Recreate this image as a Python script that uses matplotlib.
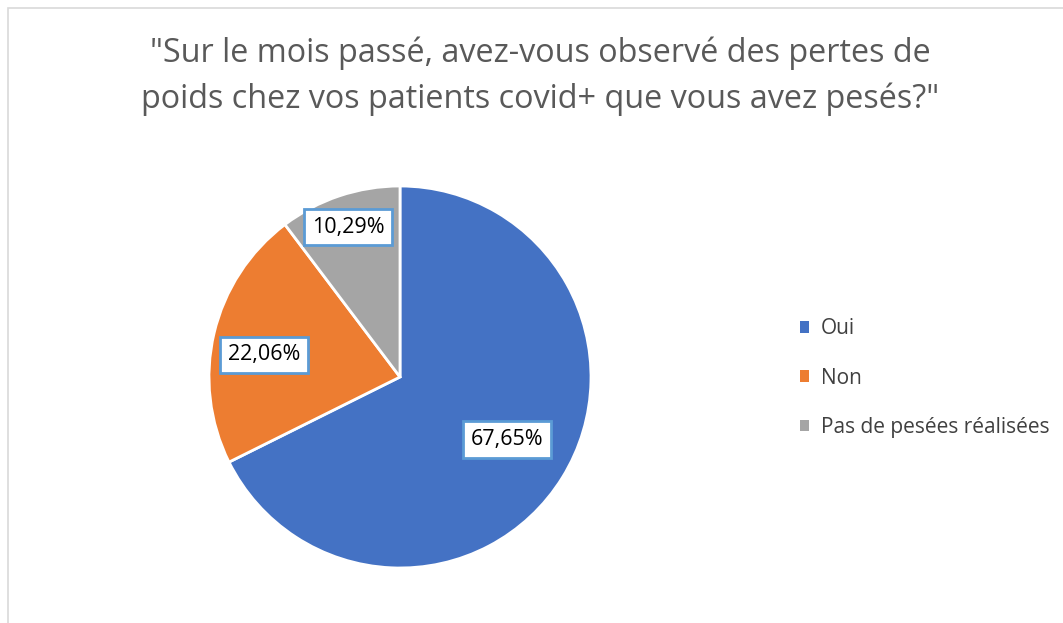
import numpy as np
import matplotlib
matplotlib.use("Agg")
import matplotlib.pyplot as plt
from matplotlib.patches import Rectangle

categories = ["Oui", "Non", "Pas de pesées réalisées"]
values = [67.65, 22.06, 10.29]
labels = ["67,65%", "22,06%", "10,29%"]
colors = ["#4472C4", "#ED7D31", "#A5A5A5"]
title = '"Sur le mois passé, avez-vous observé des pertes de\npoids chez vos patients covid+ que vous avez pesés?"'

W, H = 1063, 623
fig = plt.figure(figsize=(W / 100, H / 100), dpi=100)
fig.patch.set_facecolor("white")

# outer frame (chart area border)
fig.add_artist(Rectangle((8 / W, -0.01), 1.02, (H - 8) / H + 0.01, transform=fig.transFigure,
                         fill=False, edgecolor="#D9D9D9", linewidth=1.2))

fig.text(540 / W, 1 - 76 / H, title, ha="center", va="center", fontsize=23.3,
         color="#595959", family="Open Sans", linespacing=1.5)

cx, cy, R = 400, 377, 191
ax = fig.add_axes([(cx - R) / W, (H - cy - R) / H, 2 * R / W, 2 * R / H])
wedges, _ = ax.pie(values, colors=colors, startangle=90, counterclock=False,
                   radius=1, wedgeprops=dict(edgecolor="white", linewidth=2))
ax.set_xlim(-1, 1)
ax.set_ylim(-1, 1)
ax.set_aspect("equal")
ax.axis("off")

dist = [0.65, 0.72, 0.83]
dang = [1.5, 4.0, 0.5]
for w, lab, d, da in zip(wedges, labels, dist, dang):
    ang = np.deg2rad((w.theta1 + w.theta2) / 2 + da)
    ax.text(d * np.cos(ang), d * np.sin(ang), lab, ha="center", va="center",
            fontsize=15.5, family="Open Sans", color="black",
            bbox=dict(boxstyle="square,pad=0.36", facecolor="white",
                      edgecolor="#5B9BD5", linewidth=2))

handles = [Rectangle((0, 0), 1, 1, facecolor=c, edgecolor="none") for c in colors]
leg = fig.legend(handles, categories, loc="center left", bbox_to_anchor=(781 / W, 1 - 378 / H),
                 frameon=False, handlelength=0.45, handleheight=0.45,
                 handletextpad=0.55, labelspacing=1.35, prop=dict(family="Open Sans", size=15))
for t in leg.get_texts():
    t.set_color("#404040")

fig.savefig("out.png", dpi=100, facecolor="white")
